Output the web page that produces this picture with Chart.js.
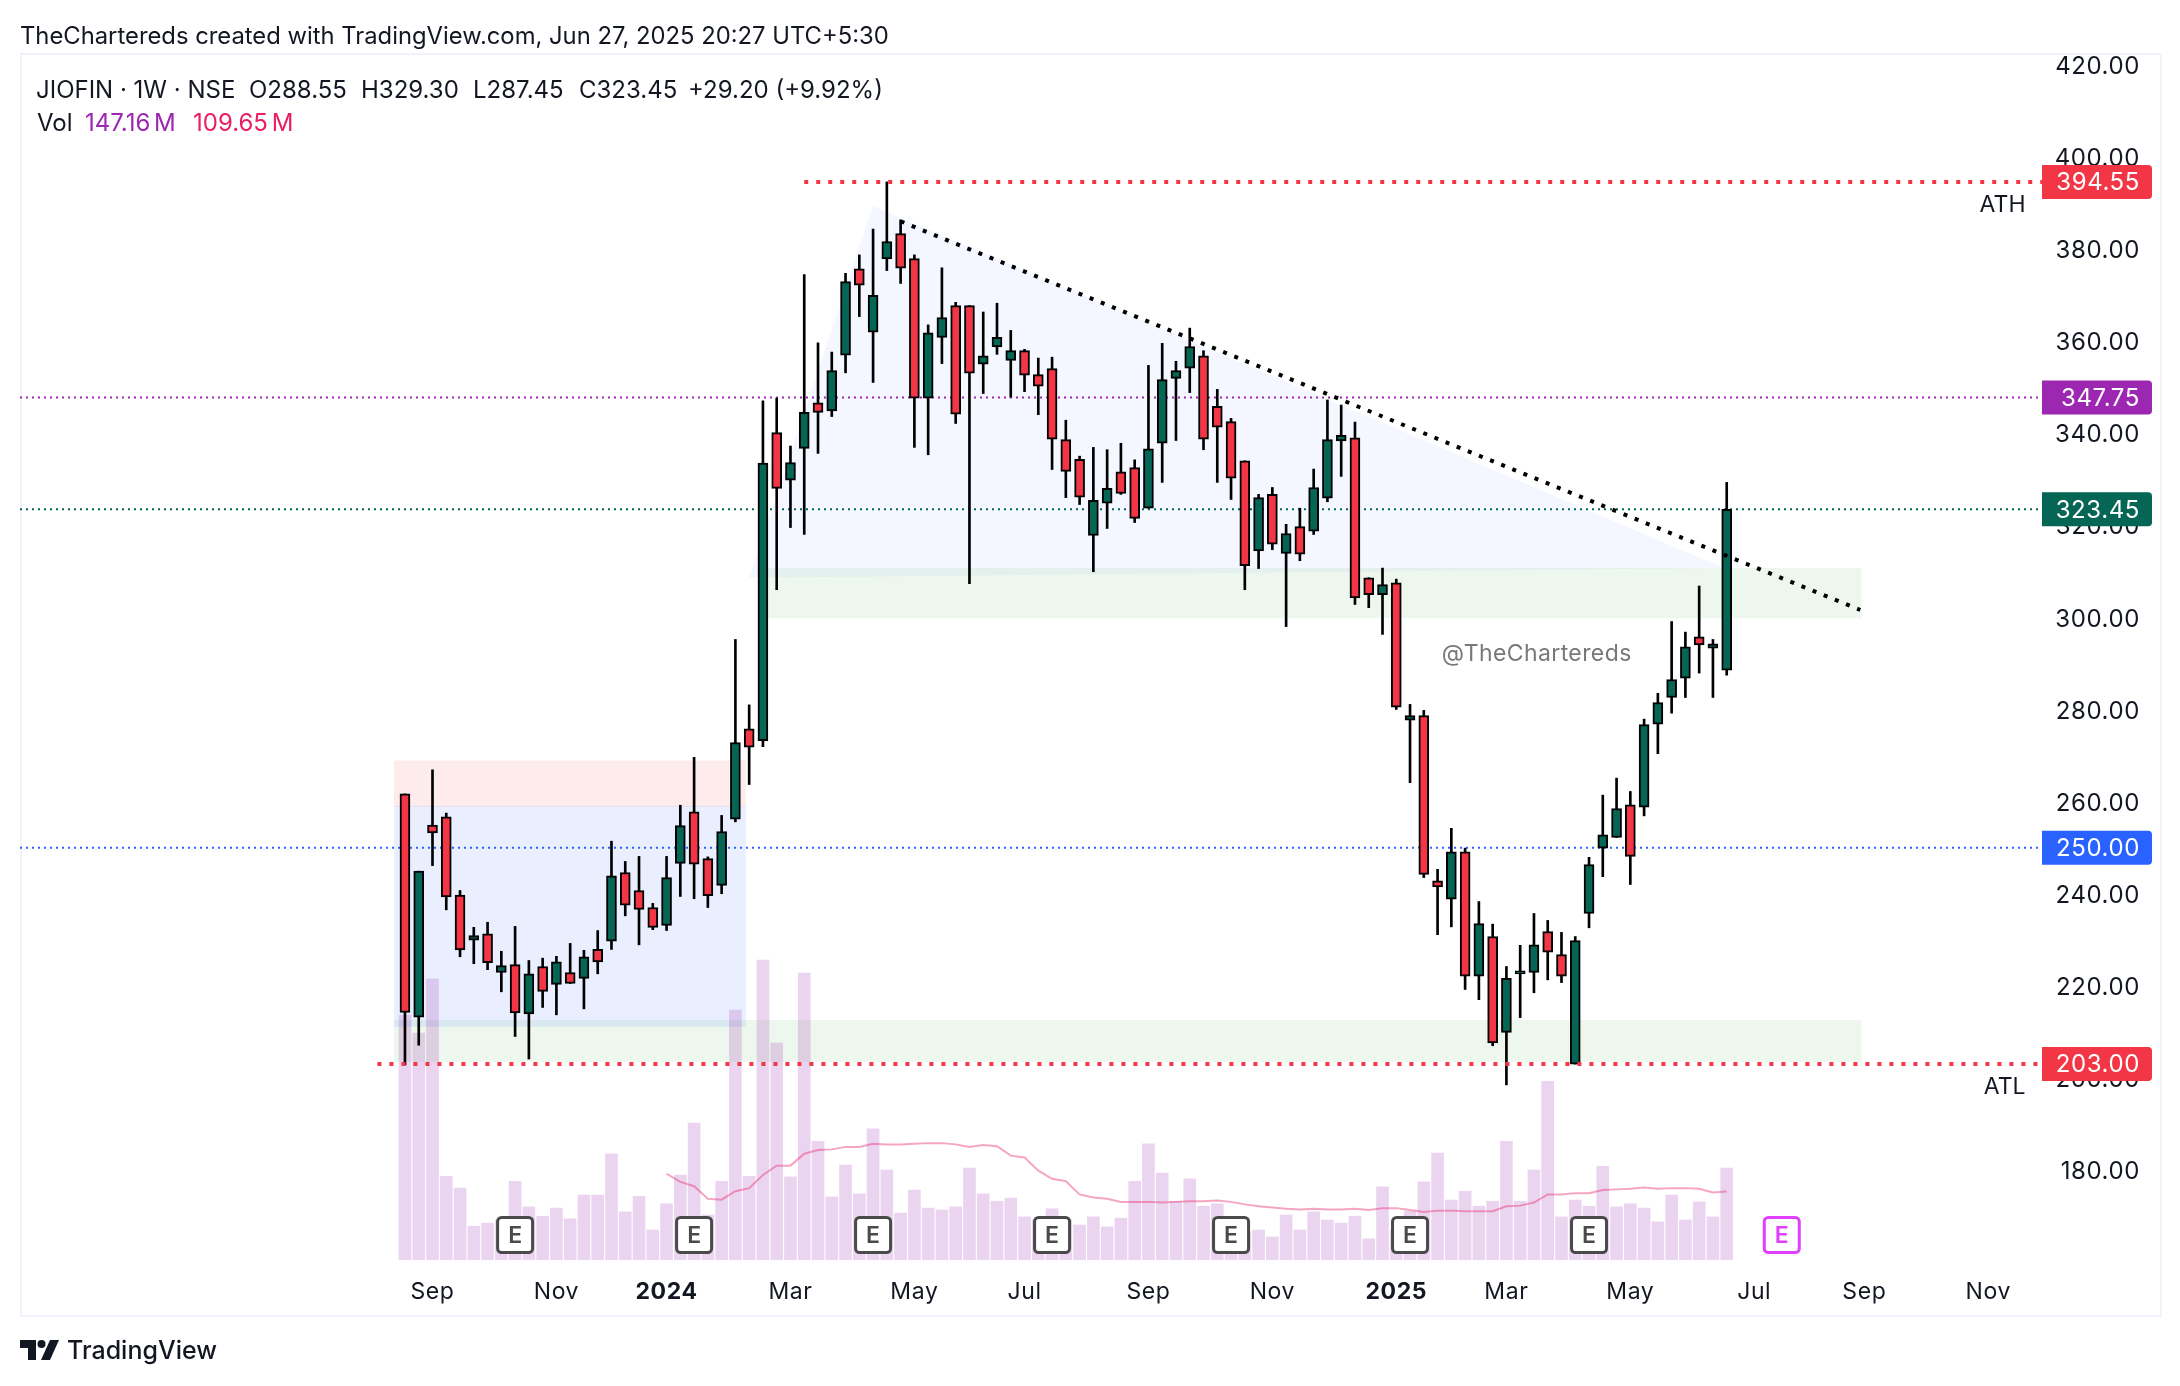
<!DOCTYPE html>
<html>
<head>
<meta charset="utf-8">
<title>JIOFIN 1W</title>
<script src="https://cdn.jsdelivr.net/npm/chart.js@4/dist/chart.umd.min.js"></script>
<style>
  html, body { margin: 0; padding: 0; background: #fff; }
  #page { position: relative; width: 2180px; height: 1386px; overflow: hidden; font-family: Inter, sans-serif; color: #131722; }
  #pane { position: absolute; left: 20px; top: 53px; width: 2138px; height: 1260px; border: 2px solid #f0f3fa; }
  canvas { position: absolute; left: 0; top: 0; }
  .txt { position: absolute; white-space: nowrap; line-height: 1; font-size: 24px; }
</style>
</head>
<body>
<div id="page">
  <div id="pane"></div>
  <canvas id="myChart" width="2180" height="1386"></canvas>

  <div class="txt" style="left:20px;top:24px;font-size:23.8px">TheChartereds created with TradingView.com, Jun 27, 2025 20:27 UTC+5:30</div>

  <div class="txt" style="left:36px;top:78px">JIOFIN · 1W · NSE</div>
  <div class="txt" style="left:249px;top:78px">O288.55</div>
  <div class="txt" style="left:361px;top:78px">H329.30</div>
  <div class="txt" style="left:473px;top:78px">L287.45</div>
  <div class="txt" style="left:579px;top:78px">C323.45</div>
  <div class="txt" style="left:688px;top:78px">+29.20 (+9.92%)</div>
  <div class="txt" style="left:37px;top:111px">Vol</div>
  <div class="txt" style="left:85px;top:111px;color:#9c27b0;word-spacing:-3px">147.16 M</div>
  <div class="txt" style="left:193px;top:111px;color:#e91e63;word-spacing:-3px">109.65 M</div>

  <svg style="position:absolute;left:20px;top:1340px" width="40" height="20" viewBox="0 0 40 20">
    <path d="M0 0H16V20H8V8H0Z" fill="#131722"/>
    <circle cx="21.5" cy="4" r="4" fill="#131722"/>
    <path d="M30 0H39L30 20H21Z" fill="#131722"/>
  </svg>
  <div class="txt" style="left:67px;top:1338px;font-size:25px;font-weight:500">TradingView</div>
</div>

<script>
// weekly candles, first bar is the listing week
const opens = [
  261.7, 213.2, 254.9, 256.7, 239.7, 229.9, 231.3, 222.9, 224.6, 213.9,
  224.2, 220.3, 222.9, 221.6, 227.9, 229.7, 244.6, 240.7, 237, 233.1,
  246.6, 257.8, 247.6, 241.8, 256.2, 275.8, 273.2, 340.1, 329.8, 336.7,
  346.6, 344.8, 356.9, 375.7, 361.9, 377.8, 383.3, 377.9, 347.6, 360.8,
  367.7, 367.7, 355, 358.7, 355.8, 357.9, 352.7, 354, 338.6, 334.3,
  317.8, 324.8, 331.6, 332.5, 323.7, 337.8, 351.9, 354.1, 356.8, 345.8,
  342.5, 334, 314.4, 326.7, 313.9, 319.7, 318.7, 325.9, 338.3, 339,
  308.6, 304.9, 307.5, 277.7, 278.7, 242.8, 238.8, 249.1, 222.1, 230.7,
  209.9, 222.6, 222.9, 231.8, 226.8, 203, 235.7, 249.9, 252.2, 259.3,
  258.8, 276.8, 282.6, 286.8, 295.8, 293.3, 288.55,
];
const highs = [
  261.7, 244.9, 266.9, 257.5, 240.7, 232.7, 233.8, 227.5, 232.9, 225.5,
  226, 226.4, 229.2, 227.7, 232, 251.4, 247, 248.1, 237.9, 248.1,
  259.2, 269.6, 248, 257, 295.2, 281, 347, 347.6, 337.2, 374.4,
  359.6, 357.6, 374.7, 378.7, 384.3, 394.55, 386.3, 378.7, 363.5, 375.9,
  368.4, 367.7, 366.3, 368.2, 362.3, 358.2, 356.3, 356.5, 342.8, 335,
  336.9, 336.4, 337.8, 334.2, 354.7, 359.5, 355.6, 362.8, 357.9, 349.5,
  343.2, 334, 326.7, 328.2, 320.2, 323.7, 332.2, 347.2, 346.1, 342.4,
  308.6, 310.7, 308.3, 281.1, 279.8, 245.3, 254.2, 249.9, 238.3, 233.4,
  224.2, 228.8, 235.7, 234.2, 231.6, 230.7, 247.9, 261.4, 265.1, 262.2,
  277.9, 283.5, 299.1, 296.8, 306.8, 295.2, 329.3,
];
const lows = [
  202.8, 207.1, 246.1, 236.5, 226.3, 224.8, 223.5, 218.7, 209, 204.1,
  215.3, 213.7, 220.5, 215, 222.6, 227.9, 235.2, 228.9, 232.2, 232,
  239.4, 238.9, 237, 240, 255.6, 263.7, 271.9, 306, 319.5, 318,
  335.6, 343.6, 353.1, 365.3, 351, 375.3, 372.5, 336.9, 335.3, 355.1,
  342.1, 307.3, 348.6, 357.1, 347.8, 349, 344, 332.1, 326, 324.5,
  309.9, 319.3, 326.7, 320.6, 323.7, 329.3, 338.4, 348.8, 336.4, 329.3,
  325.6, 306, 310.6, 314.7, 298, 312.3, 318, 325.1, 330.6, 302.8,
  302.1, 296.3, 280, 264.1, 243.5, 231.1, 232.8, 219.2, 217, 207,
  198.5, 213.1, 218.5, 221.3, 220.7, 203, 232.6, 243.7, 252.2, 242,
  256.9, 270.4, 279.2, 282.6, 287.9, 282.6, 287.45,
];
const closes = [
  214.2, 244.9, 253.2, 239.3, 227.8, 230.9, 225, 224.4, 214.1, 222.6,
  218.8, 225.2, 220.5, 226.3, 225.2, 243.9, 237.5, 236.6, 232.7, 243.5,
  254.8, 246.4, 239.6, 253.5, 272.8, 271.8, 333.5, 328, 333.6, 344.5,
  344.5, 353.6, 372.9, 372.1, 369.9, 381.6, 375.8, 347.6, 361.8, 365.1,
  344.1, 353, 356.8, 360.8, 357.9, 352.6, 350.2, 338.7, 331.7, 326.1,
  325.4, 328, 326.9, 321.5, 336.6, 351.6, 353.6, 358.8, 338.7, 341.3,
  330.2, 311.2, 326, 315.9, 318.2, 313.7, 328.2, 338.6, 339.5, 304.2,
  304.9, 307.1, 280.5, 278.7, 244.2, 241.5, 249.1, 222.1, 233.5, 207.6,
  221.6, 222.6, 228.9, 227.3, 222.1, 229.8, 246.3, 252.8, 258.5, 248.1,
  276.7, 281.5, 286.5, 293.6, 294, 294.25, 323.45,
];
// volume in millions
const volumes = [
  392, 363, 450, 134, 115, 54, 59, 64, 126, 85,
  70, 83, 66, 104, 104, 170, 77, 102, 48, 90,
  136, 219, 72, 126, 400, 134, 480, 347, 133, 459,
  190, 101, 152, 106, 210, 144, 75, 112, 83, 80,
  85, 147, 106, 94, 99, 69, 64, 82, 64, 56,
  69, 53, 67, 126, 186, 139, 94, 130, 86, 90,
  48, 45, 48, 37, 72, 48, 77, 64, 59, 70,
  34, 117, 48, 78, 125, 171, 96, 110, 86, 94,
  190, 94, 144, 286, 69, 96, 86, 150, 85, 90,
  83, 61, 104, 64, 93, 69, 147.16,
];
// volume average, starts at bar 19
const volumeMaStart = 19;
const volumeMa = [
  138, 125, 118, 98, 96.5, 110, 115, 136, 151, 151,
  170, 176, 177, 181, 181, 186, 185, 185, 186, 187,
  187, 185, 181, 184, 182, 167, 164, 143, 130, 126,
  105, 100, 98, 93, 93, 93, 92, 93, 94, 94,
  95, 93, 89, 86, 84, 82, 81, 82, 81, 81,
  82, 80, 83, 83, 80, 77, 79, 79, 78, 78,
  78, 86, 87, 92, 105, 105, 107, 107, 112, 113,
  114, 116, 114, 115, 115, 114, 108, 109.65,
];

const priceTicks = [180, 200, 220, 240, 260, 280, 300, 320, 340, 360, 380, 400, 420];
const timeTickBars = [2, 11, 19, 28, 37, 45, 54, 63, 72, 80, 89, 98, 106, 115];
const timeTickLabels = ["Sep", "Nov", "2024", "Mar", "May", "Jul", "Sep", "Nov", "2025", "Mar", "May", "Jul", "Sep", "Nov"];
const yearLabels = ["2024", "2025"];
const earningsBars = [8, 21, 34, 47, 60, 73, 86];
const nextEarningsBar = 100;

const UP = "#056656";
const DOWN = "#f23645";
const X_MIN = -27.96;
const X_MAX = 118.9;

const bars = opens.map((_, i) => i);

// price tags on the right scale
const priceTags = [
  { value: 394.55, text: "394.55", color: "#f23645" },
  { value: 347.75, text: "347.75", color: "#9c27b0" },
  { value: 323.45, text: "323.45", color: "#056656" },
  { value: 250, text: "250.00", color: "#2962ff" },
  { value: 203, text: "203.00", color: "#f23645" },
];

function lineSet(points, color, width, dash, order) {
  return {
    type: "line",
    data: points.map((p) => ({ x: p[0], y: p[1] })),
    borderColor: color,
    borderWidth: width,
    borderDash: dash,
    borderCapStyle: "butt",
    pointRadius: 0,
    tension: 0,
    fill: false,
    order: order,
  };
}

function boxSet(x0, x1, top, bottom, color) {
  return {
    type: "line",
    data: [{ x: x0, y: top }, { x: x1, y: top }],
    borderWidth: 0,
    pointRadius: 0,
    fill: { value: bottom },
    backgroundColor: color,
    order: 12,
  };
}

const overlayPlugin = {
  id: "overlay",
  beforeDraw(chart) {
    chart.ctx.letterSpacing = "0.6px";
    // price labels sit a touch lower than the centre of their value
    const y = chart.scales.y;
    if (!y.shifted) {
      const drawLabels = y.drawLabels;
      y.drawLabels = function (area) {
        chart.ctx.save();
        chart.ctx.translate(0, 2);
        drawLabels.call(this, area);
        chart.ctx.restore();
      };
      y.shifted = true;
    }
  },
  afterDraw(chart) {
    const c = chart.ctx;
    const x = chart.scales.x;
    const y = chart.scales.y;
    const area = chart.chartArea;
    c.save();

    // ATH / ATL notes and watermark
    c.textBaseline = "middle";
    c.textAlign = "right";
    c.fillStyle = "#131722";
    c.font = "23px Inter";
    c.letterSpacing = "0px";
    c.fillText("ATH", x.getPixelForValue(117.7), y.getPixelForValue(389.5));
    c.fillText("ATL", x.getPixelForValue(117.7), y.getPixelForValue(198.1));
    c.textAlign = "center";
    c.fillStyle = "#787878";
    c.letterSpacing = "0.4px";
    c.fillText("@TheChartereds", x.getPixelForValue(82.2), y.getPixelForValue(292.1));

    // earnings badges
    c.letterSpacing = "0px";
    const badge = (bar, color) => {
      const cx = x.getPixelForValue(bar);
      c.beginPath();
      c.roundRect(cx - 17.5, 1217.5, 35, 35, 4);
      c.fillStyle = "#fff";
      c.fill();
      c.lineWidth = 3;
      c.strokeStyle = color;
      c.stroke();
      c.fillStyle = color;
      c.font = "600 23px Inter";
      c.textAlign = "center";
      c.fillText("E", cx, 1236);
    };
    earningsBars.forEach((b) => badge(b, "#4a4a4a"));
    badge(nextEarningsBar, "#e040fb");

    // price tags
    c.letterSpacing = "0.6px";
    priceTags.forEach((tag) => {
      const py = y.getPixelForValue(tag.value);
      c.beginPath();
      c.roundRect(area.right, py - 17, 110, 34, [0, 4, 4, 0]);
      c.fillStyle = tag.color;
      c.fill();
      c.fillStyle = "#fff";
      c.font = "24px Inter";
      c.textAlign = "right";
      c.fillText(tag.text, 2140, py + 1);
    });
    c.restore();
  },
};

const ctx = document.getElementById("myChart");
new Chart(ctx, {
  type: "bar",
  plugins: [overlayPlugin],
  data: {
    datasets: [
      // triangle and zones
      {
        type: "line",
        data: [
          { x: 25, y: 308.6 },
          { x: 34, y: 389.3 },
          { x: 95.8, y: 310.7 },
        ],
        borderWidth: 0,
        pointRadius: 0,
        tension: 0,
        fill: "shape",
        backgroundColor: "rgba(41,98,255,0.05)",
        order: 13,
      },
      boxSet(-0.8, 24.76, 268.9, 258.9, "rgba(242,54,69,0.1)"),
      boxSet(-0.8, 24.76, 259.1, 211.1, "rgba(41,98,255,0.1)"),
      boxSet(-0.8, 105.8, 212.6, 203.5, "rgba(76,175,80,0.1)"),
      boxSet(26, 105.8, 310.7, 299.8, "rgba(76,175,80,0.1)"),
      // thin price lines
      lineSet([[X_MIN, 347.75], [X_MAX, 347.75]], "#9c27b0", 2, [2, 4], 11),
      lineSet([[X_MIN, 323.45], [X_MAX, 323.45]], "#056656", 2, [2, 4], 11),
      lineSet([[X_MIN, 250], [X_MAX, 250]], "#2962ff", 2, [2, 4], 11),
      // volume
      {
        label: "Vol",
        data: bars.map((i) => ({ x: i, y: volumes[i] })),
        yAxisID: "vol",
        backgroundColor: "rgba(156,39,176,0.2)",
        borderWidth: 0,
        barThickness: 12,
        grouped: false,
        order: 10,
      },
      {
        type: "line",
        label: "Vol MA",
        data: volumeMa.map((v, i) => ({ x: volumeMaStart + i, y: v })),
        yAxisID: "vol",
        borderColor: "rgba(233,30,99,0.4)",
        borderWidth: 2,
        pointRadius: 0,
        tension: 0,
        fill: false,
        order: 9,
      },
      // candles: wick then body
      {
        label: "Wick",
        data: bars.map((i) => ({ x: i, y: [lows[i], highs[i]] })),
        backgroundColor: "#000",
        borderWidth: 0,
        barThickness: 2,
        grouped: false,
        order: 6,
      },
      {
        label: "Body",
        data: bars.map((i) => ({ x: i, y: [opens[i], closes[i]] })),
        backgroundColor: bars.map((i) => (closes[i] >= opens[i] ? UP : DOWN)),
        borderColor: "#000",
        borderWidth: 2,
        borderSkipped: false,
        minBarLength: 3,
        barThickness: 10,
        grouped: false,
        order: 5,
      },
      // ATH, ATL, trendline sit on top of the candles
      lineSet([[29, 394.55], [X_MAX, 394.55]], "#f23645", 4, [4, 8], 4),
      lineSet([[-2, 203], [X_MAX, 203]], "#f23645", 4, [4, 8], 4),
      lineSet([[36, 386], [105.7, 301.6]], "#000", 4, [4, 8], 3),
    ],
  },
  options: {
    responsive: false,
    animation: false,
    devicePixelRatio: 1,
    layout: {
      padding: { left: 20, top: 55, right: 40, bottom: 70 },
    },
    plugins: {
      legend: { display: false },
      title: { display: false },
      tooltip: { enabled: false },
    },
    scales: {
      x: {
        type: "linear",
        min: X_MIN,
        max: X_MAX,
        offset: false,
        grid: { display: false },
        border: { display: false },
        afterFit(scale) {
          scale.height = 56;
        },
        afterBuildTicks(scale) {
          scale.ticks = timeTickBars.map((v) => ({ value: v }));
        },
        ticks: {
          autoSkip: false,
          maxRotation: 0,
          padding: 10,
          color: "#131722",
          font: (c) => ({
            family: "Inter",
            size: 23,
            weight: c.tick && yearLabels.includes(timeTickLabels[timeTickBars.indexOf(c.tick.value)]) ? "bold" : "normal",
          }),
          callback: (v) => timeTickLabels[timeTickBars.indexOf(v)],
        },
      },
      y: {
        position: "right",
        min: 160.47,
        max: 422.1,
        grid: { display: false },
        border: { display: false },
        afterFit(scale) {
          scale.width = 98;
        },
        afterBuildTicks(scale) {
          scale.ticks = priceTicks.map((v) => ({ value: v }));
        },
        ticks: {
          crossAlign: "far",
          color: "#131722",
          font: { family: "Inter", size: 24 },
          callback: (v) => v.toFixed(2),
        },
      },
      vol: {
        display: false,
        position: "right",
        min: 0,
        max: 1928,
      },
    },
  },
});
</script>
</body>
</html>
